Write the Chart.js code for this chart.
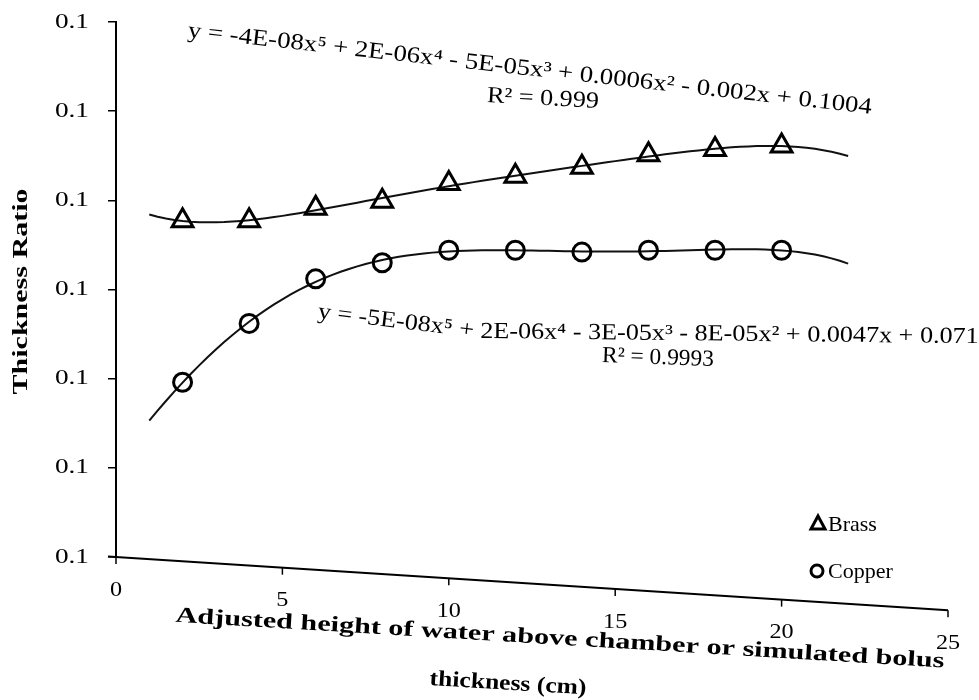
<!DOCTYPE html>
<html>
<head>
<meta charset="utf-8">
<title>Thickness Ratio</title>
<script src="https://cdn.jsdelivr.net/npm/chart.js@4.4.1/dist/chart.umd.min.js"></script>
<style>
  html, body { margin: 0; padding: 0; background: #ffffff; }
  #wrap { width: 979px; height: 700px; }
</style>
</head>
<body>
<div id="wrap"><canvas id="chart" width="979" height="700"></canvas></div>
<script>
// Measured thickness ratios against water height above the chamber (cm)
const heights = [2, 4, 6, 8, 10, 12, 14, 16, 18, 20];
const brassRatio = [0.0977, 0.0977, 0.0991, 0.0999, 0.1019, 0.1027, 0.1037, 0.1051, 0.1057, 0.1061];
const copperRatio = [0.0796, 0.0862, 0.0912, 0.0930, 0.0944, 0.0944, 0.0942, 0.0944, 0.0944, 0.0944];

// Axis ranges and tick values
const xTicks = [0, 5, 10, 15, 20, 25];
const yTicks = [0.06, 0.07, 0.08, 0.09, 0.10, 0.11, 0.12];
const trendRange = [1, 22];

// Texts
const seriesNames = ['Brass', 'Copper'];
const yTitle = 'Thickness Ratio';
const xTitleLines = ['Adjusted height of water above chamber or simulated bolus', 'thickness (cm)'];
const brassEquation = 'y = -4E-08x\u2075 + 2E-06x\u2074 - 5E-05x\u00B3 + 0.0006x\u00B2 - 0.002x + 0.1004';
const brassR2 = 'R\u00B2 = 0.999';
const copperEquationParts = ['y = -5E-08x\u2075 + ', '2E-06x\u2074 - 3E-05x\u00B3 - 8E-05x\u00B2 + 0.0047x + 0.071'];
const copperR2 = 'R\u00B2 = 0.9993';

const SERIF = '"Liberation Serif", "Times New Roman", serif';

// Least-squares polynomial trendline (order 5, as for the fitted equations)
function polyFit(xs, ys, degree) {
  const n = degree + 1;
  const M = Array.from({ length: n }, () => new Array(n + 1).fill(0));
  xs.forEach((x, k) => {
    const t = x / 10;
    const p = [];
    for (let i = 0; i < n; i++) p.push(Math.pow(t, i));
    for (let i = 0; i < n; i++) {
      for (let j = 0; j < n; j++) M[i][j] += p[i] * p[j];
      M[i][n] += p[i] * ys[k];
    }
  });
  for (let c = 0; c < n; c++) {
    let piv = c;
    for (let r = c + 1; r < n; r++) if (Math.abs(M[r][c]) > Math.abs(M[piv][c])) piv = r;
    [M[c], M[piv]] = [M[piv], M[c]];
    for (let r = 0; r < n; r++) {
      if (r === c) continue;
      const f = M[r][c] / M[c][c];
      for (let k = c; k <= n; k++) M[r][k] -= f * M[c][k];
    }
  }
  const coef = M.map((row, i) => row[n] / row[i]);
  return x => coef.reduce((s, c, i) => s + c * Math.pow(x / 10, i), 0);
}

function trendPoints(ys) {
  const f = polyFit(heights, ys, 5);
  const pts = [];
  for (let x = trendRange[0]; x <= trendRange[1] + 1e-9; x += 0.25) pts.push({ x, y: f(x) });
  return pts;
}

const toPoints = ys => heights.map((x, i) => ({ x, y: ys[i] }));

// Text drawn with a horizontal stretch so that it spans a given length
function drawText(ctx, text, x, y, o) {
  ctx.save();
  ctx.font = o.font;
  const w = ctx.measureText(text).width;
  const sx = o.width ? o.width / w : (o.sx || 1);
  ctx.translate(x, y);
  ctx.rotate((o.angle || 0) * Math.PI / 180);
  ctx.scale(sx, 1);
  ctx.textAlign = o.align || 'left';
  ctx.textBaseline = 'middle';
  ctx.fillStyle = '#000';
  ctx.fillText(text, 0, 0);
  ctx.restore();
  return w * sx;
}

// The horizontal axis runs with a slight downward slant
const AXIS_SLANT = 0.064;

const decorations = {
  id: 'decorations',
  afterDraw(chart) {
    const ctx = chart.ctx;
    const a = chart.chartArea;
    const xs = chart.scales.x, ys = chart.scales.y;
    const axisY = px => a.bottom + (px - a.left) * AXIS_SLANT;

    // y tick labels
    yTicks.forEach(v => {
      const py = ys.getPixelForValue(v);
      drawText(ctx, v.toFixed(1), 89, py, { font: '21px ' + SERIF, align: 'right', sx: 1.3 });
    });
    // y title
    ctx.save();
    ctx.translate(22, (a.top + a.bottom) / 2 + 2);
    ctx.rotate(-Math.PI / 2);
    drawText(ctx, yTitle, 0, 0, { font: 'bold 20px ' + SERIF, align: 'center', width: 206 });
    ctx.restore();

    // x axis line with ticks and labels
    ctx.save();
    ctx.strokeStyle = '#000';
    ctx.lineWidth = 2;
    ctx.beginPath();
    ctx.moveTo(a.left - 8, axisY(a.left - 8));
    ctx.lineTo(a.right, axisY(a.right));
    ctx.stroke();
    ctx.lineWidth = 1.5;
    xTicks.forEach(v => {
      const px = xs.getPixelForValue(v);
      const py = axisY(px);
      ctx.beginPath();
      ctx.moveTo(px, py);
      ctx.lineTo(px, py + 7);
      ctx.stroke();
      drawText(ctx, String(v), px, py + 33, { font: '22px ' + SERIF, align: 'center', sx: 1.1 });
    });
    ctx.restore();

    // x title, two lines
    drawText(ctx, xTitleLines[0], 560, 639, { font: 'bold 22px ' + SERIF, align: 'center', angle: 3.4, width: 770 });
    drawText(ctx, xTitleLines[1], 508, 684, { font: 'bold 22px ' + SERIF, align: 'center', angle: 3.4, width: 157 });

    // trendline equations
    drawText(ctx, brassEquation, 188, 31, { font: '23px ' + SERIF, angle: 6.4, width: 688 });
    drawText(ctx, brassR2, 487, 96, { font: '23px ' + SERIF, angle: 3, width: 112 });

    ctx.save();
    ctx.font = '23px ' + SERIF;
    const full = ctx.measureText(copperEquationParts.join('')).width;
    ctx.restore();
    const sxc = 662 / full;
    const w0 = drawText(ctx, copperEquationParts[0], 318, 312, { font: '23px ' + SERIF, angle: 7, sx: sxc });
    const x1 = 318 + w0 * Math.cos(7 * Math.PI / 180);
    const y1 = 312 + w0 * Math.sin(7 * Math.PI / 180);
    drawText(ctx, copperEquationParts[1], x1, y1, { font: '23px ' + SERIF, angle: 0.6, sx: sxc });
    drawText(ctx, copperR2, 602, 356, { font: '23px ' + SERIF, angle: 2, width: 112 });

    // legend
    const marks = chart.data.datasets.filter(d => d.legendMark);
    marks.forEach((d, i) => {
      const cx = 818, cy = 524 + i * 47;
      ctx.save();
      ctx.strokeStyle = '#000';
      ctx.lineWidth = 3;
      ctx.beginPath();
      if (d.pointStyle === 'triangle') {
        ctx.moveTo(cx, cy - 8);
        ctx.lineTo(cx + 7, cy + 5);
        ctx.lineTo(cx - 7, cy + 5);
        ctx.closePath();
      } else {
        ctx.arc(cx - 1, cy, 6, 0, Math.PI * 2);
      }
      ctx.stroke();
      ctx.restore();
      drawText(ctx, d.label, cx + 10, cy + 1, { font: '22px ' + SERIF, sx: 1.0 });
    });
  }
};

const ctx = document.getElementById('chart').getContext('2d');
new Chart(ctx, {
  type: 'scatter',
  data: {
    datasets: [
      {
        label: seriesNames[0], legendMark: true, data: toPoints(brassRatio), order: 0,
        pointStyle: 'triangle', pointRadius: 12, pointHoverRadius: 12, pointBorderWidth: 3,
        borderColor: '#000', backgroundColor: 'rgba(0,0,0,0)', showLine: false
      },
      {
        label: seriesNames[1], legendMark: true, data: toPoints(copperRatio), order: 0,
        pointStyle: 'circle', pointRadius: 9, pointHoverRadius: 9, pointBorderWidth: 3,
        borderColor: '#000', backgroundColor: 'rgba(0,0,0,0)', showLine: false
      },
      {
        label: 'Brass trend', data: trendPoints(brassRatio), order: 1, showLine: true,
        pointRadius: 0, borderColor: '#111', borderWidth: 2, tension: 0
      },
      {
        label: 'Copper trend', data: trendPoints(copperRatio), order: 1, showLine: true,
        pointRadius: 0, borderColor: '#111', borderWidth: 2, tension: 0
      }
    ]
  },
  options: {
    responsive: false,
    animation: false,
    layout: { padding: { top: 22, right: 31, left: 0, bottom: 0 } },
    plugins: { legend: { display: false }, tooltip: { enabled: false } },
    scales: {
      x: {
        type: 'linear', min: 0, max: 25,
        grid: { display: false, drawTicks: false },
        border: { display: false },
        ticks: { display: false },
        afterFit: s => { s.height = 143; }
      },
      y: {
        type: 'linear', min: 0.06, max: 0.12,
        afterBuildTicks: s => { s.ticks = yTicks.map(v => ({ value: v })); },
        grid: { display: true, drawOnChartArea: false, drawTicks: true, tickLength: 8, color: '#000', lineWidth: 1.5 },
        border: { display: true, color: '#000', width: 2 },
        ticks: { color: 'rgba(0,0,0,0)', font: { size: 18 } },
        afterFit: s => { s.width = 116; }
      }
    }
  },
  plugins: [decorations]
});
</script>
</body>
</html>
